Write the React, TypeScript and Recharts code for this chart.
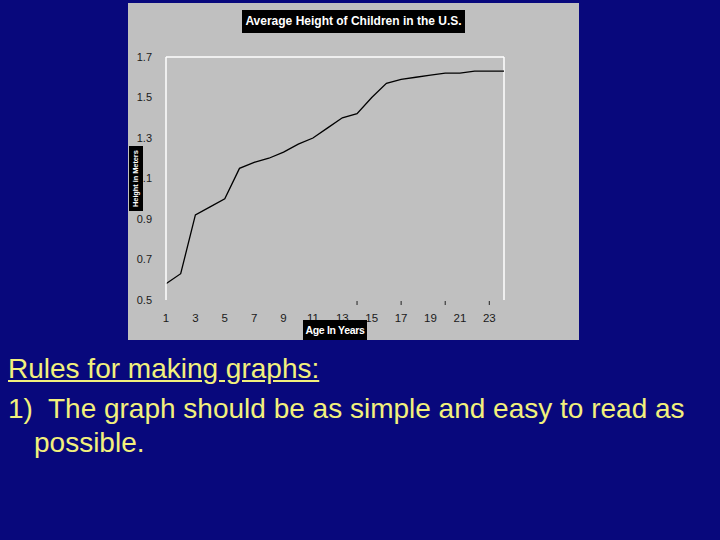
import { LineChart, Line, XAxis, YAxis, ReferenceLine } from 'recharts';

const ages = [1, 2, 3, 4, 5, 6, 7, 8, 9, 10, 11, 12, 13, 14, 15, 16, 17, 18, 19, 20, 21, 22, 23, 24];
const heights = [0.58, 0.63, 0.92, 0.96, 1.0, 1.15, 1.18, 1.2, 1.23, 1.27, 1.3, 1.35, 1.4, 1.42, 1.5, 1.57, 1.59, 1.6, 1.61, 1.62, 1.62, 1.63, 1.63, 1.63];
const yTicks = [0.5, 0.7, 0.9, 1.1, 1.3, 1.5, 1.7];
const xLabels = [1, 3, 5, 7, 9, 11, 13, 15, 17, 19, 21, 23];
const strayTicks = [14, 17, 20, 23];

const data = ages.map((age, i) => ({ age, height: heights[i] }));

const NAVY = '#08087c';
const YELLOW = '#f2f07c';
const FONT = '"Liberation Sans", Arial, sans-serif';

function AgeTick(props: any) {
  const { x, y, payload } = props;
  const v = payload.value;
  return (
    <g>
      {strayTicks.includes(v) && <line x1={x} x2={x} y1={y + 1} y2={y + 5} stroke="#222" strokeWidth={1} />}
      {xLabels.includes(v) && (
        <text x={x} y={y + 22} textAnchor="middle" fontSize={11.5} fill="#1a1a1a" fontFamily={FONT}>{v}</text>
      )}
    </g>
  );
}

const boxStyle: any = { position: 'absolute', background: '#000', color: '#fff', fontWeight: 'bold', fontFamily: FONT, textAlign: 'center', whiteSpace: 'nowrap' };
const textStyle: any = { position: 'absolute', fontSize: 28, lineHeight: '32px', color: YELLOW, whiteSpace: 'pre' };

export default function App() {
  return (
    <div style={{ position: 'fixed', left: 0, top: 0, width: 720, height: 540, background: NAVY, overflow: 'hidden', fontFamily: FONT }}>
      <div style={{ position: 'absolute', left: 128, top: 3, width: 451, height: 337, background: '#c0c0c0' }} />
      <div style={{ position: 'absolute', left: 128, top: 3 }}>
        <LineChart width={451} height={337} data={data} margin={{ top: 54, right: 75, bottom: 10, left: 8 }}>
          <XAxis dataKey="age" type="number" domain={[1, 24]} ticks={ages} interval={0} axisLine={false} tickLine={false} tickSize={0} tickMargin={0} height={30} tick={<AgeTick />} />
          <YAxis type="number" domain={[0.5, 1.7]} ticks={yTicks} width={30} axisLine={{ stroke: '#fff', strokeWidth: 1.5 }} tickLine={false} tickMargin={8} tick={{ fontSize: 11, fill: '#1a1a1a', fontFamily: FONT }} tickFormatter={(v: number) => v.toFixed(1)} />
          <ReferenceLine y={1.7} stroke="#fff" strokeWidth={1.5} />
          <ReferenceLine x={24} stroke="#fff" strokeWidth={1.5} />
          <Line type="linear" dataKey="height" stroke="#000" strokeWidth={1.3} dot={false} isAnimationActive={false} />
        </LineChart>
      </div>
      <div style={{ ...boxStyle, left: 242, top: 10, width: 223, height: 23, lineHeight: '23px', fontSize: 12 }}>Average Height of Children in the U.S.</div>
      <div style={{ ...boxStyle, left: 303, top: 320, width: 64, height: 20, lineHeight: '20px', fontSize: 10.5, letterSpacing: -0.3 }}>Age In Years</div>
      <div style={{ ...boxStyle, left: 129, top: 146, width: 14, height: 65, fontSize: 7.5, letterSpacing: -0.1, writingMode: 'vertical-rl', transform: 'rotate(180deg)', lineHeight: '14px' }}>Height in Meters</div>
      <div style={{ ...textStyle, left: 8, top: 353, textDecoration: 'underline' }}>Rules for making graphs:</div>
      <div style={{ ...textStyle, left: 8, top: 393 }}>{'1)  The graph should be as simple and easy to read as'}</div>
      <div style={{ ...textStyle, left: 34, top: 427 }}>possible.</div>
    </div>
  );
}
